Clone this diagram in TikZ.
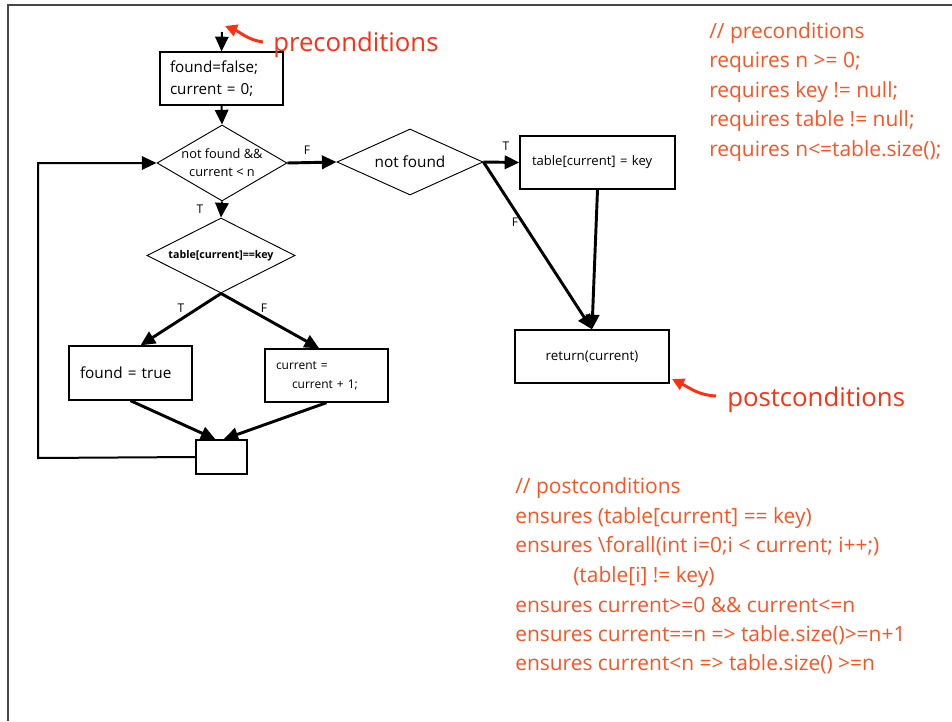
\documentclass[tikz,border=0pt]{standalone}
\usepackage{fontspec}
\setmainfont{Open Sans}
\usetikzlibrary{arrows.meta,shapes.geometric,calc}
\definecolor{note}{RGB}{255,82,32}
\definecolor{callout}{RGB}{255,48,18}
\definecolor{frame}{RGB}{70,70,70}
\begin{document}
\begin{tikzpicture}[x=0.75pt,y=-0.75pt,
  box/.style={draw,rectangle,line width=1pt,inner ysep=0pt,align=left},
  cond/.style={draw,diamond,line width=0.7pt,inner sep=0pt},
  condtext/.style={align=center,inner sep=0pt},
  flow/.style={-{Triangle[length=11pt,width=10pt]},line width=2.2pt},
  link/.style={-{Triangle[length=11pt,width=10pt]},line width=1.5pt},
  tf/.style={font=\fontsize{9}{10}\selectfont,inner sep=0pt},
  notetext/.style={anchor=base west,inner sep=0pt,text=note,font=\fontsize{15.7}{18}\selectfont},
  calloutlbl/.style={anchor=base west,inner sep=0pt,text=callout,font=\fontsize{19.3}{22}\selectfont},
  calloutarrow/.style={draw=callout,line width=2.2pt,-{Triangle[length=9pt,width=9pt]}}
]
\useasboundingbox (0,0) rectangle (952,721);

% slide frame
\draw[frame,line width=1.3pt] (8,721) -- (8,5) -- (952,5);

% flowchart nodes
\node[box,inner xsep=7.5pt,text width=77.25pt,minimum height=39.75pt,font=\fontsize{11.4}{16.5}\selectfont] (init) at (221.5,78.5) {found=false;\\current = 0;};
\node[cond,minimum width=97.5pt,minimum height=57pt,
  label={[condtext,font=\fontsize{9.6}{13.5}\selectfont]center:not found \&\&\\current < n}] (loop) at (222,163) {};
\node[cond,minimum width=109.5pt,minimum height=49.5pt,
  label={[condtext,font=\fontsize{11.5}{12}\selectfont]center:not found}] (nf) at (410,162) {};
\node[box,inner xsep=9pt,text width=98.25pt,minimum height=39.75pt,font=\fontsize{9.8}{10}\selectfont] (assign) at (597.5,162.5) {table[current] = key};
\node[box,align=center,inner xsep=0pt,minimum width=115.5pt,minimum height=39.75pt,font=\fontsize{10}{10}\selectfont] (ret) at (592,356.5) {return(current)};
\node[cond,minimum width=111pt,minimum height=56.25pt,
  label={[condtext,font=\fontsize{8}{9}\selectfont\bfseries]center:table[current]==key}] (test) at (221,255.5) {};
\node[box,inner xsep=8.25pt,text width=75.75pt,minimum height=40.5pt,font=\fontsize{11.5}{12}\selectfont] (found) at (130.5,373) {found = true};
\node[box,inner xsep=8.25pt,text width=75.75pt,minimum height=39.75pt,font=\fontsize{9}{14.25}\selectfont] (incr) at (326.5,375.5) {current =\\\hspace*{12pt}current + 1;};
\node[box,inner sep=0pt,minimum width=38.25pt,minimum height=25.5pt] (join) at (221.5,457) {};

% connectors
\coordinate (entry) at (222,32);
\draw[link] (entry) -- (init.north);
\draw[link] (init.south) -- (loop.north);
\draw[flow] (loop.east) -- (nf.west);
\draw[flow] (nf.east) -- (assign.west);
\draw[flow] (nf.east) -- (ret.north);
\draw[flow] (assign.south) -- (ret.north);
\draw[link] (loop.south) -- (test.north);
\draw[flow] (test.south) -- ([xshift=7.5pt]found.north);
\draw[flow] (test.south) -- ([xshift=-5.5pt]incr.north);
\draw[flow] (found.south) -- ([xshift=-4.5pt]join.north);
\draw[flow] (incr.south) -- ([xshift=1.5pt]join.north);
\coordinate (back) at (38,458);
\draw[link] (join.west) -- (back) |- (loop.west);

% branch labels
\node[tf] (lf1) at (307,150) {F};
\node[tf] (lt1) at (506,146) {T};
\node[tf] (lf2) at (515,222) {F};
\node[tf] (lt2) at (200,209) {T};
\node[tf] (lt3) at (181,308) {T};
\node[tf] (lf3) at (264,308) {F};

% callouts
\node[calloutlbl] (pre) at (273,51) {preconditions};
\coordinate (pretail) at (263,42);
\draw[calloutarrow] (pretail) .. controls (248,40) and (240,32) .. (225,26);
\node[calloutlbl] (post) at (727,406) {postconditions};
\coordinate (posttail) at (716,396);
\draw[calloutarrow] (posttail) .. controls (698,395) and (690,388) .. (672,379);

% specification notes
\node[notetext] (r0) at (709,38) {// preconditions};
\node[notetext] (r1) at (709,67) {requires n >= 0;};
\node[notetext] (r2) at (709,97) {requires key != null;};
\node[notetext] (r3) at (709,126) {requires table != null;};
\node[notetext] (r4) at (709,156) {requires n<=table.size();};

\node[notetext] (e0) at (515,493) {// postconditions};
\node[notetext] (e1) at (515,523) {ensures (table[current] == key)};
\node[notetext] (e2) at (515,552) {ensures \textbackslash forall(int i=0;i < current; i++;)};
\node[notetext] (e3) at (573,582) {(table[i] != key)};
\node[notetext] (e4) at (515,612) {ensures current>=0 \&\& current<=n};
\node[notetext] (e5) at (515,641) {ensures current==n => table.size()>=n+1};
\node[notetext] (e6) at (515,670) {ensures current<n => table.size() >=n};
\end{tikzpicture}
\end{document}
